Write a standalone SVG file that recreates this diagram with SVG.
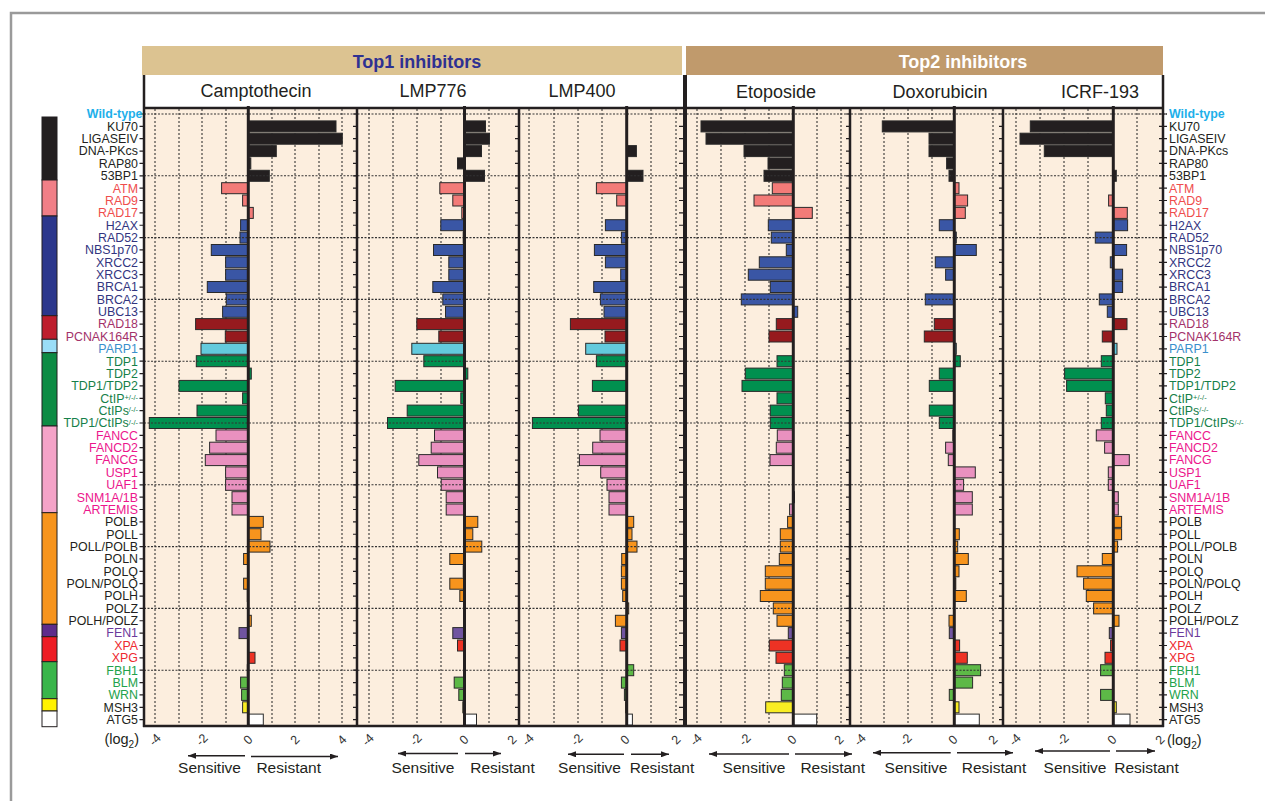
<svg xmlns="http://www.w3.org/2000/svg" width="1265" height="801" viewBox="0 0 1265 801">
<defs>
<style>
text{font-family:"Liberation Sans",Arial,sans-serif;fill:#231F20}
.lab{font-size:12.4px}
.le-l{text-anchor:end}
.sup{font-size:7.5px}
.wt{fill:#1EB0EA;font-weight:bold}
.lk{fill:#231F20}.ls{fill:#EF4D4D}.lb{fill:#32357F}.lr{fill:#A3326A}.lc{fill:#3A8FCC}.lg{fill:#16804A}.lp{fill:#EC168C}.lv{fill:#6C3A9C}.le{fill:#EE2A30}.ll{fill:#22A24B}
.bars rect{stroke:#2a2a2a;stroke-width:1}
.k{fill:#231F20}.s{fill:#F37B78}.b{fill:#3A56A5}.r{fill:#961A1E}.c{fill:#63CADD}.g{fill:#00904F}.p{fill:#E991BF}.o{fill:#F7941D}.v{fill:#7054A0}.e{fill:#EE3224}.l{fill:#5DB947}.y{fill:#F9ED23}.w{fill:#FFFFFF}
.bg{fill:#FCEEDE}
.vg{stroke:#222;stroke-width:1;stroke-dasharray:2 2;fill:none}
.hg{stroke:#333;stroke-width:1.1;stroke-dasharray:2 1.5;fill:none}
.frame{stroke:#231F20;stroke-width:2.5;fill:none}
.zero{stroke:#231F20;stroke-width:3}
.tick{stroke:#231F20;stroke-width:4;stroke-dasharray:1.2 11.16;fill:none}
.tl{font-size:12.5px;fill:#333;text-anchor:middle}
.arr{stroke:#231F20;stroke-width:1.5;fill:none}
.sr{font-size:15.5px;text-anchor:middle}
.drug{font-size:18px;text-anchor:middle}
.title{font-size:18px;font-weight:bold;text-anchor:middle}
</style>
<marker id="ah" viewBox="0 0 8 6" refX="8" refY="3" markerWidth="8" markerHeight="6" markerUnits="userSpaceOnUse" orient="auto"><path d="M0,0L8,3L0,6z" fill="#231F20"/></marker>
</defs>
<rect width="1265" height="801" fill="#fff"/>
<path d="M11 801V13H1265" stroke="#9a9a9a" stroke-width="2.5" fill="none"/>

<g id="header">
<rect x="142" y="46" width="540" height="29" fill="#DCC391"/>
<rect x="686" y="46" width="477" height="29" fill="#C09A6C"/>
<text class="title" x="417" y="68" style="fill:#2E3192">Top1 inhibitors</text>
<text class="title" x="963" y="68" style="fill:#fff">Top2 inhibitors</text>
<text class="drug" x="256" y="97">Camptothecin</text>
<text class="drug" x="433" y="97">LMP776</text>
<text class="drug" x="582" y="97">LMP400</text>
<text class="drug" x="776" y="98">Etoposide</text>
<text class="drug" x="940" y="98">Doxorubicin</text>
<text class="drug" x="1100" y="98">ICRF-193</text>
</g>

<g id="colorbar" stroke="#231F20" stroke-width="1">
<rect x="42" y="117" width="15" height="63" fill="#231F20"/>
<rect x="42" y="180" width="15" height="36" fill="#F07F87"/>
<rect x="42" y="216" width="15" height="99.7" fill="#2C378C"/>
<rect x="42" y="315.7" width="15" height="23.6" fill="#BE1E2D"/>
<rect x="42" y="339.3" width="15" height="13.4" fill="#9ADDF7"/>
<rect x="42" y="352.7" width="15" height="73.3" fill="#0D8B44"/>
<rect x="42" y="426" width="15" height="86.7" fill="#F4A3C8"/>
<rect x="42" y="512.7" width="15" height="111.6" fill="#F7941D"/>
<rect x="42" y="624.3" width="15" height="12.4" fill="#5E2C8B"/>
<rect x="42" y="636.7" width="15" height="25" fill="#ED1C24"/>
<rect x="42" y="661.7" width="15" height="37" fill="#39B54A"/>
<rect x="42" y="698.7" width="15" height="12.3" fill="#FFF200"/>
<rect x="42" y="711" width="15" height="15.7" fill="#FFFFFF"/>
</g>

<g id="panel-backgrounds">
<rect class="bg" x="144" y="108" width="1019" height="618"/>
</g>

<g id="gridlines">
<path class="vg" d="M155 109V725M179 109V725M202 109V725M226 109V725M272 109V725M295 109V725M319 109V725M342 109V725M369 109V725M393 109V725M417 109V725M441 109V725M489 109V725M529 109V725M554 109V725M578 109V725M602 109V725M651 109V725M676 109V725M697 109V725M721 109V725M745 109V725M769 109V725M817 109V725M841 109V725M861 109V725M884 109V725M908 109V725M932 109V725M993 109V725M1016 109V725M1040 109V725M1064 109V725M1088 109V725M1137 109V725"/>
</g>

<g id="bars-camptothecin" class="bars">
<rect class="k" x="248.3" y="120.9" width="87.7" height="11"/>
<rect class="k" x="248.3" y="133.2" width="94" height="11"/>
<rect class="k" x="248.3" y="145.6" width="28" height="11"/>
<rect class="k" x="248.3" y="157.9" width="2.5" height="11"/>
<rect class="k" x="248.3" y="170.3" width="21" height="11"/>
<rect class="s" x="221.6" y="182.7" width="26.7" height="11"/>
<rect class="s" x="242.6" y="195" width="5.7" height="11"/>
<rect class="s" x="248.3" y="207.4" width="5" height="11"/>
<rect class="b" x="240.6" y="219.7" width="7.7" height="11"/>
<rect class="b" x="240" y="232.1" width="8.3" height="11"/>
<rect class="b" x="211.3" y="244.5" width="37" height="11"/>
<rect class="b" x="225.6" y="256.8" width="22.7" height="11"/>
<rect class="b" x="225.6" y="269.2" width="22.7" height="11"/>
<rect class="b" x="207.3" y="281.5" width="41" height="11"/>
<rect class="b" x="226.3" y="293.9" width="22" height="11"/>
<rect class="b" x="222.6" y="306.3" width="25.7" height="11"/>
<rect class="r" x="195.6" y="318.6" width="52.7" height="11"/>
<rect class="r" x="225.3" y="331" width="23" height="11"/>
<rect class="c" x="201" y="343.3" width="47.3" height="11"/>
<rect class="g" x="196.3" y="355.7" width="52" height="11"/>
<rect class="g" x="248.3" y="368.1" width="3" height="11"/>
<rect class="g" x="179" y="380.4" width="69.3" height="11"/>
<rect class="g" x="242.6" y="392.8" width="5.7" height="11"/>
<rect class="g" x="197" y="405.1" width="51.3" height="11"/>
<rect class="g" x="149.3" y="417.5" width="99" height="11"/>
<rect class="p" x="216" y="429.9" width="32.3" height="11"/>
<rect class="p" x="209.6" y="442.2" width="38.7" height="11"/>
<rect class="p" x="205.3" y="454.6" width="43" height="11"/>
<rect class="p" x="225.6" y="466.9" width="22.7" height="11"/>
<rect class="p" x="225.6" y="479.3" width="22.7" height="11"/>
<rect class="p" x="232" y="491.7" width="16.3" height="11"/>
<rect class="p" x="232" y="504" width="16.3" height="11"/>
<rect class="o" x="248.3" y="516.4" width="15" height="11"/>
<rect class="o" x="248.3" y="528.7" width="12.7" height="11"/>
<rect class="o" x="248.3" y="541.1" width="21.7" height="11"/>
<rect class="o" x="243.6" y="553.5" width="4.7" height="11"/>
<rect class="o" x="243.6" y="578.2" width="4.7" height="11"/>
<rect class="o" x="247.3" y="590.5" width="1" height="11"/>
<rect class="o" x="248.3" y="615.3" width="3" height="11"/>
<rect class="v" x="239" y="627.6" width="9.3" height="11"/>
<rect class="e" x="248.3" y="652.3" width="6.7" height="11"/>
<rect class="l" x="247.3" y="664.7" width="1" height="11"/>
<rect class="l" x="240.6" y="677.1" width="7.7" height="11"/>
<rect class="l" x="241.6" y="689.4" width="6.7" height="11"/>
<rect class="y" x="242.6" y="701.8" width="5.7" height="11"/>
<rect class="w" x="248.3" y="714.1" width="15" height="11"/>
</g>

<g id="bars-lmp776" class="bars">
<rect class="k" x="464.5" y="120.9" width="21" height="11"/>
<rect class="k" x="464.5" y="133.2" width="25" height="11"/>
<rect class="k" x="464.5" y="145.6" width="17" height="11"/>
<rect class="k" x="457.5" y="157.9" width="7" height="11"/>
<rect class="k" x="464.5" y="170.3" width="20" height="11"/>
<rect class="s" x="439.8" y="182.7" width="24.7" height="11"/>
<rect class="s" x="452.8" y="195" width="11.7" height="11"/>
<rect class="s" x="461.8" y="207.4" width="2.7" height="11"/>
<rect class="b" x="440.8" y="219.7" width="23.7" height="11"/>
<rect class="b" x="463.2" y="232.1" width="1.3" height="11"/>
<rect class="b" x="433.5" y="244.5" width="31" height="11"/>
<rect class="b" x="448.8" y="256.8" width="15.7" height="11"/>
<rect class="b" x="448.8" y="269.2" width="15.7" height="11"/>
<rect class="b" x="432.8" y="281.5" width="31.7" height="11"/>
<rect class="b" x="442.8" y="293.9" width="21.7" height="11"/>
<rect class="b" x="445.5" y="306.3" width="19" height="11"/>
<rect class="r" x="416.8" y="318.6" width="47.7" height="11"/>
<rect class="r" x="438.8" y="331" width="25.7" height="11"/>
<rect class="c" x="411.8" y="343.3" width="52.7" height="11"/>
<rect class="g" x="423.8" y="355.7" width="40.7" height="11"/>
<rect class="g" x="464.5" y="368.1" width="3.3" height="11"/>
<rect class="g" x="395.2" y="380.4" width="69.3" height="11"/>
<rect class="g" x="460.8" y="392.8" width="3.7" height="11"/>
<rect class="g" x="407.2" y="405.1" width="57.3" height="11"/>
<rect class="g" x="387.5" y="417.5" width="77" height="11"/>
<rect class="p" x="434.5" y="429.9" width="30" height="11"/>
<rect class="p" x="431.2" y="442.2" width="33.3" height="11"/>
<rect class="p" x="418.8" y="454.6" width="45.7" height="11"/>
<rect class="p" x="437.5" y="466.9" width="27" height="11"/>
<rect class="p" x="441.2" y="479.3" width="23.3" height="11"/>
<rect class="p" x="446.2" y="491.7" width="18.3" height="11"/>
<rect class="p" x="446.2" y="504" width="18.3" height="11"/>
<rect class="o" x="464.5" y="516.4" width="13.3" height="11"/>
<rect class="o" x="464.5" y="528.7" width="8.3" height="11"/>
<rect class="o" x="464.5" y="541.1" width="17.3" height="11"/>
<rect class="o" x="449.8" y="553.5" width="14.7" height="11"/>
<rect class="o" x="463.2" y="565.8" width="1.3" height="11"/>
<rect class="o" x="449.8" y="578.2" width="14.7" height="11"/>
<rect class="o" x="459.8" y="590.5" width="4.7" height="11"/>
<rect class="v" x="452.8" y="627.6" width="11.7" height="11"/>
<rect class="e" x="457.5" y="640" width="7" height="11"/>
<rect class="l" x="463.8" y="664.7" width="0.7" height="11"/>
<rect class="l" x="454.2" y="677.1" width="10.3" height="11"/>
<rect class="l" x="458.8" y="689.4" width="5.7" height="11"/>
<rect class="y" x="462.8" y="701.8" width="1.7" height="11"/>
<rect class="w" x="464.5" y="714.1" width="12" height="11"/>
</g>

<g id="bars-lmp400" class="bars">
<rect class="k" x="626.7" y="145.6" width="9.7" height="11"/>
<rect class="k" x="626.7" y="170.3" width="16.3" height="11"/>
<rect class="s" x="596.4" y="182.7" width="30.3" height="11"/>
<rect class="s" x="616.7" y="195" width="10" height="11"/>
<rect class="b" x="605.4" y="219.7" width="21.3" height="11"/>
<rect class="b" x="621.4" y="232.1" width="5.3" height="11"/>
<rect class="b" x="594.4" y="244.5" width="32.3" height="11"/>
<rect class="b" x="605.4" y="256.8" width="21.3" height="11"/>
<rect class="b" x="620.7" y="269.2" width="6" height="11"/>
<rect class="b" x="593.7" y="281.5" width="33" height="11"/>
<rect class="b" x="600.4" y="293.9" width="26.3" height="11"/>
<rect class="b" x="604" y="306.3" width="22.7" height="11"/>
<rect class="r" x="570.4" y="318.6" width="56.3" height="11"/>
<rect class="r" x="605" y="331" width="21.7" height="11"/>
<rect class="c" x="585.7" y="343.3" width="41" height="11"/>
<rect class="g" x="596.4" y="355.7" width="30.3" height="11"/>
<rect class="g" x="592.4" y="380.4" width="34.3" height="11"/>
<rect class="g" x="578.4" y="405.1" width="48.3" height="11"/>
<rect class="g" x="532.4" y="417.5" width="94.3" height="11"/>
<rect class="p" x="600" y="429.9" width="26.7" height="11"/>
<rect class="p" x="592.7" y="442.2" width="34" height="11"/>
<rect class="p" x="579.4" y="454.6" width="47.3" height="11"/>
<rect class="p" x="600.7" y="466.9" width="26" height="11"/>
<rect class="p" x="607" y="479.3" width="19.7" height="11"/>
<rect class="p" x="609" y="491.7" width="17.7" height="11"/>
<rect class="p" x="609" y="504" width="17.7" height="11"/>
<rect class="o" x="626.7" y="516.4" width="7" height="11"/>
<rect class="o" x="626.7" y="528.7" width="5.3" height="11"/>
<rect class="o" x="626.7" y="541.1" width="10.3" height="11"/>
<rect class="o" x="621.7" y="553.5" width="5" height="11"/>
<rect class="o" x="621.4" y="565.8" width="5.3" height="11"/>
<rect class="o" x="621.4" y="578.2" width="5.3" height="11"/>
<rect class="o" x="622.7" y="590.5" width="4" height="11"/>
<rect class="o" x="626.7" y="602.9" width="2" height="11"/>
<rect class="o" x="615.4" y="615.3" width="11.3" height="11"/>
<rect class="v" x="621.4" y="627.6" width="5.3" height="11"/>
<rect class="e" x="620" y="640" width="6.7" height="11"/>
<rect class="l" x="626.7" y="664.7" width="7" height="11"/>
<rect class="l" x="621.4" y="677.1" width="5.3" height="11"/>
<rect class="l" x="624.4" y="689.4" width="2.3" height="11"/>
<rect class="y" x="625.7" y="701.8" width="1" height="11"/>
<rect class="w" x="626.7" y="714.1" width="5.7" height="11"/>
</g>

<g id="bars-etoposide" class="bars">
<rect class="k" x="701" y="120.9" width="92.3" height="11"/>
<rect class="k" x="706" y="133.2" width="87.3" height="11"/>
<rect class="k" x="744" y="145.6" width="49.3" height="11"/>
<rect class="k" x="768" y="157.9" width="25.3" height="11"/>
<rect class="k" x="764" y="170.3" width="29.3" height="11"/>
<rect class="s" x="772.3" y="182.7" width="21" height="11"/>
<rect class="s" x="754" y="195" width="39.3" height="11"/>
<rect class="s" x="793.3" y="207.4" width="19" height="11"/>
<rect class="b" x="768.3" y="219.7" width="25" height="11"/>
<rect class="b" x="771.3" y="232.1" width="22" height="11"/>
<rect class="b" x="786.3" y="244.5" width="7" height="11"/>
<rect class="b" x="759.3" y="256.8" width="34" height="11"/>
<rect class="b" x="748.3" y="269.2" width="45" height="11"/>
<rect class="b" x="770.3" y="281.5" width="23" height="11"/>
<rect class="b" x="741.3" y="293.9" width="52" height="11"/>
<rect class="b" x="793.3" y="306.3" width="4.4" height="11"/>
<rect class="r" x="776.3" y="318.6" width="17" height="11"/>
<rect class="r" x="769" y="331" width="24.3" height="11"/>
<rect class="g" x="777" y="355.7" width="16.3" height="11"/>
<rect class="g" x="745.3" y="368.1" width="48" height="11"/>
<rect class="g" x="742" y="380.4" width="51.3" height="11"/>
<rect class="g" x="777" y="392.8" width="16.3" height="11"/>
<rect class="g" x="770.3" y="405.1" width="23" height="11"/>
<rect class="g" x="770.3" y="417.5" width="23" height="11"/>
<rect class="p" x="777.3" y="429.9" width="16" height="11"/>
<rect class="p" x="776.3" y="442.2" width="17" height="11"/>
<rect class="p" x="770" y="454.6" width="23.3" height="11"/>
<rect class="p" x="793.3" y="491.7" width="1.2" height="11"/>
<rect class="p" x="789.6" y="504" width="3.7" height="11"/>
<rect class="o" x="787.6" y="516.4" width="5.7" height="11"/>
<rect class="o" x="780.3" y="528.7" width="13" height="11"/>
<rect class="o" x="780.3" y="541.1" width="13" height="11"/>
<rect class="o" x="779.3" y="553.5" width="14" height="11"/>
<rect class="o" x="765.3" y="565.8" width="28" height="11"/>
<rect class="o" x="765.3" y="578.2" width="28" height="11"/>
<rect class="o" x="760.3" y="590.5" width="33" height="11"/>
<rect class="o" x="773.3" y="602.9" width="20" height="11"/>
<rect class="o" x="777" y="615.3" width="16.3" height="11"/>
<rect class="v" x="788.3" y="627.6" width="5" height="11"/>
<rect class="e" x="769.3" y="640" width="24" height="11"/>
<rect class="e" x="776" y="652.3" width="17.3" height="11"/>
<rect class="l" x="784.3" y="664.7" width="9" height="11"/>
<rect class="l" x="782.3" y="677.1" width="11" height="11"/>
<rect class="l" x="781.3" y="689.4" width="12" height="11"/>
<rect class="y" x="765.7" y="701.8" width="27.6" height="11"/>
<rect class="w" x="793.3" y="714.1" width="23.4" height="11"/>
</g>

<g id="bars-doxorubicin" class="bars">
<rect class="k" x="882.3" y="120.9" width="72" height="11"/>
<rect class="k" x="929" y="133.2" width="25.3" height="11"/>
<rect class="k" x="929" y="145.6" width="25.3" height="11"/>
<rect class="k" x="946.6" y="157.9" width="7.7" height="11"/>
<rect class="k" x="949" y="170.3" width="5.3" height="11"/>
<rect class="s" x="954.3" y="182.7" width="4.7" height="11"/>
<rect class="s" x="954.3" y="195" width="13.3" height="11"/>
<rect class="s" x="954.3" y="207.4" width="11" height="11"/>
<rect class="b" x="939.3" y="219.7" width="15" height="11"/>
<rect class="b" x="954.3" y="232.1" width="2" height="11"/>
<rect class="b" x="954.3" y="244.5" width="22" height="11"/>
<rect class="b" x="935.3" y="256.8" width="19" height="11"/>
<rect class="b" x="945.6" y="269.2" width="8.7" height="11"/>
<rect class="b" x="925.3" y="293.9" width="29" height="11"/>
<rect class="r" x="934.3" y="318.6" width="20" height="11"/>
<rect class="r" x="924.3" y="331" width="30" height="11"/>
<rect class="c" x="954.3" y="343.3" width="2" height="11"/>
<rect class="g" x="954.3" y="355.7" width="6" height="11"/>
<rect class="g" x="939.3" y="368.1" width="15" height="11"/>
<rect class="g" x="929.3" y="380.4" width="25" height="11"/>
<rect class="g" x="929.3" y="405.1" width="25" height="11"/>
<rect class="g" x="939.3" y="417.5" width="15" height="11"/>
<rect class="p" x="952.8" y="429.9" width="1.5" height="11"/>
<rect class="p" x="945.6" y="442.2" width="8.7" height="11"/>
<rect class="p" x="948.3" y="454.6" width="6" height="11"/>
<rect class="p" x="954.3" y="466.9" width="21" height="11"/>
<rect class="p" x="954.3" y="479.3" width="9.3" height="11"/>
<rect class="p" x="954.3" y="491.7" width="18" height="11"/>
<rect class="p" x="954.3" y="504" width="18" height="11"/>
<rect class="o" x="954.3" y="528.7" width="5" height="11"/>
<rect class="o" x="954.3" y="541.1" width="3.4" height="11"/>
<rect class="o" x="954.3" y="553.5" width="14" height="11"/>
<rect class="o" x="954.3" y="565.8" width="4.7" height="11"/>
<rect class="o" x="954.3" y="578.2" width="1.5" height="11"/>
<rect class="o" x="954.3" y="590.5" width="12" height="11"/>
<rect class="o" x="949" y="615.3" width="5.3" height="11"/>
<rect class="v" x="949.3" y="627.6" width="5" height="11"/>
<rect class="e" x="954.3" y="640" width="5.3" height="11"/>
<rect class="e" x="954.3" y="652.3" width="13" height="11"/>
<rect class="l" x="954.3" y="664.7" width="26.3" height="11"/>
<rect class="l" x="954.3" y="677.1" width="18.3" height="11"/>
<rect class="l" x="949.3" y="689.4" width="5" height="11"/>
<rect class="y" x="954.3" y="701.8" width="4.7" height="11"/>
<rect class="w" x="954.3" y="714.1" width="25" height="11"/>
</g>

<g id="bars-icrf193" class="bars">
<rect class="k" x="1030.3" y="120.9" width="83" height="11"/>
<rect class="k" x="1020" y="133.2" width="93.3" height="11"/>
<rect class="k" x="1044.3" y="145.6" width="69" height="11"/>
<rect class="k" x="1113.3" y="170.3" width="3" height="11"/>
<rect class="s" x="1108.6" y="195" width="4.7" height="11"/>
<rect class="s" x="1113.3" y="207.4" width="14" height="11"/>
<rect class="b" x="1113.3" y="219.7" width="14.3" height="11"/>
<rect class="b" x="1095.3" y="232.1" width="18" height="11"/>
<rect class="b" x="1113.3" y="244.5" width="13.3" height="11"/>
<rect class="b" x="1110.3" y="256.8" width="3" height="11"/>
<rect class="b" x="1113.3" y="269.2" width="9.3" height="11"/>
<rect class="b" x="1113.3" y="281.5" width="9.3" height="11"/>
<rect class="b" x="1099.3" y="293.9" width="14" height="11"/>
<rect class="b" x="1107.3" y="306.3" width="6" height="11"/>
<rect class="r" x="1113.3" y="318.6" width="13.7" height="11"/>
<rect class="r" x="1102.3" y="331" width="11" height="11"/>
<rect class="c" x="1113.3" y="343.3" width="3.7" height="11"/>
<rect class="g" x="1101.3" y="355.7" width="12" height="11"/>
<rect class="g" x="1064.6" y="368.1" width="48.7" height="11"/>
<rect class="g" x="1066.6" y="380.4" width="46.7" height="11"/>
<rect class="g" x="1105.3" y="392.8" width="8" height="11"/>
<rect class="g" x="1106.3" y="405.1" width="7" height="11"/>
<rect class="g" x="1101.3" y="417.5" width="12" height="11"/>
<rect class="p" x="1096.3" y="429.9" width="17" height="11"/>
<rect class="p" x="1104.6" y="442.2" width="8.7" height="11"/>
<rect class="p" x="1113.3" y="454.6" width="16" height="11"/>
<rect class="p" x="1108.3" y="466.9" width="5" height="11"/>
<rect class="p" x="1108.3" y="479.3" width="5" height="11"/>
<rect class="p" x="1113.3" y="491.7" width="5" height="11"/>
<rect class="p" x="1113.3" y="504" width="5" height="11"/>
<rect class="o" x="1113.3" y="516.4" width="8.3" height="11"/>
<rect class="o" x="1113.3" y="528.7" width="8.3" height="11"/>
<rect class="o" x="1113.3" y="541.1" width="4.3" height="11"/>
<rect class="o" x="1102.3" y="553.5" width="11" height="11"/>
<rect class="o" x="1077" y="565.8" width="36.3" height="11"/>
<rect class="o" x="1083.6" y="578.2" width="29.7" height="11"/>
<rect class="o" x="1086.3" y="590.5" width="27" height="11"/>
<rect class="o" x="1093.6" y="602.9" width="19.7" height="11"/>
<rect class="o" x="1113.3" y="615.3" width="5.7" height="11"/>
<rect class="v" x="1109.3" y="627.6" width="4" height="11"/>
<rect class="e" x="1110.6" y="640" width="2.7" height="11"/>
<rect class="e" x="1105" y="652.3" width="8.3" height="11"/>
<rect class="l" x="1100.6" y="664.7" width="12.7" height="11"/>
<rect class="l" x="1100.6" y="689.4" width="12.7" height="11"/>
<rect class="y" x="1113.3" y="701.8" width="3" height="11"/>
<rect class="w" x="1113.3" y="714.1" width="16.7" height="11"/>
</g>

<g id="row-gridlines">
<path class="hg" d="M144 114H1167M144 175.8H1167M144 237.6H1167M144 299.4H1167M144 361.2H1167M144 423H1167M144 484.8H1167M144 546.6H1167M144 608.4H1167M144 670.2H1167"/>
</g>

<g id="zero-lines">
<path class="zero" d="M248.3 106V727M464.5 106V727M626.7 106V727M793.3 106V727M954.3 106V727M1113.3 106V727"/>
</g>

<g id="frames">
<path class="frame" d="M144 75V727M357 108V727M519 108V727M850 108V727M1003 108V727M1163 75V727M143 108H1164M143 726H1164"/>
<path d="M685 75V727" stroke="#231F20" stroke-width="4" fill="none"/>
<path class="tick" d="M141.5 113.4V721M355 113.4V721M517 113.4V721M681 113.4V721M848 113.4V721M1001 113.4V721M1161 113.4V721M1165 113.4V721"/>
</g>

<g id="labels-left" class="lab">
<text class="wt le-l" x="142.5" y="118.3">Wild-type</text>
<text class="lk le-l" x="138" y="130.7">KU70</text>
<text class="lk le-l" x="138" y="143">LIGASEIV</text>
<text class="lk le-l" x="138" y="155.4">DNA-PKcs</text>
<text class="lk le-l" x="138" y="167.7">RAP80</text>
<text class="lk le-l" x="138" y="180.1">53BP1</text>
<text class="ls le-l" x="138" y="192.5">ATM</text>
<text class="ls le-l" x="138" y="204.8">RAD9</text>
<text class="ls le-l" x="138" y="217.2">RAD17</text>
<text class="lb le-l" x="138" y="229.5">H2AX</text>
<text class="lb le-l" x="138" y="241.9">RAD52</text>
<text class="lb le-l" x="138" y="254.3">NBS1p70</text>
<text class="lb le-l" x="138" y="266.6">XRCC2</text>
<text class="lb le-l" x="138" y="279">XRCC3</text>
<text class="lb le-l" x="138" y="291.3">BRCA1</text>
<text class="lb le-l" x="138" y="303.7">BRCA2</text>
<text class="lb le-l" x="138" y="316.1">UBC13</text>
<text class="lr le-l" x="138" y="328.4">RAD18</text>
<text class="lr le-l" x="138" y="340.8">PCNAK164R</text>
<text class="lc le-l" x="138" y="353.1">PARP1</text>
<text class="lg le-l" x="138" y="365.5">TDP1</text>
<text class="lg le-l" x="138" y="377.9">TDP2</text>
<text class="lg le-l" x="138" y="390.2">TDP1/TDP2</text>
<text class="lg le-l" x="138" y="402.6">CtIP<tspan class="sup" dy="-2.6">+/-/-</tspan></text>
<text class="lg le-l" x="138" y="414.9">CtIPs<tspan class="sup" dy="-2.6">/-/-</tspan></text>
<text class="lg le-l" x="138" y="427.3">TDP1/CtIPs<tspan class="sup" dy="-2.6">/-/-</tspan></text>
<text class="lp le-l" x="138" y="439.7">FANCC</text>
<text class="lp le-l" x="138" y="452">FANCD2</text>
<text class="lp le-l" x="138" y="464.4">FANCG</text>
<text class="lp le-l" x="138" y="476.7">USP1</text>
<text class="lp le-l" x="138" y="489.1">UAF1</text>
<text class="lp le-l" x="138" y="501.5">SNM1A/1B</text>
<text class="lp le-l" x="138" y="513.8">ARTEMIS</text>
<text class="lk le-l" x="138" y="526.2">POLB</text>
<text class="lk le-l" x="138" y="538.5">POLL</text>
<text class="lk le-l" x="138" y="550.9">POLL/POLB</text>
<text class="lk le-l" x="138" y="563.3">POLN</text>
<text class="lk le-l" x="138" y="575.6">POLQ</text>
<text class="lk le-l" x="138" y="588">POLN/POLQ</text>
<text class="lk le-l" x="138" y="600.3">POLH</text>
<text class="lk le-l" x="138" y="612.7">POLZ</text>
<text class="lk le-l" x="138" y="625.1">POLH/POLZ</text>
<text class="lv le-l" x="138" y="637.4">FEN1</text>
<text class="le le-l" x="138" y="649.8">XPA</text>
<text class="le le-l" x="138" y="662.1">XPG</text>
<text class="ll le-l" x="138" y="674.5">FBH1</text>
<text class="ll le-l" x="138" y="686.9">BLM</text>
<text class="ll le-l" x="138" y="699.2">WRN</text>
<text class="lk le-l" x="138" y="711.6">MSH3</text>
<text class="lk le-l" x="138" y="723.9">ATG5</text>
</g>

<g id="labels-right" class="lab">
<text class="wt" x="1169" y="118.3">Wild-type</text>
<text class="lk" x="1169" y="130.7">KU70</text>
<text class="lk" x="1169" y="143">LIGASEIV</text>
<text class="lk" x="1169" y="155.4">DNA-PKcs</text>
<text class="lk" x="1169" y="167.7">RAP80</text>
<text class="lk" x="1169" y="180.1">53BP1</text>
<text class="ls" x="1169" y="192.5">ATM</text>
<text class="ls" x="1169" y="204.8">RAD9</text>
<text class="ls" x="1169" y="217.2">RAD17</text>
<text class="lb" x="1169" y="229.5">H2AX</text>
<text class="lb" x="1169" y="241.9">RAD52</text>
<text class="lb" x="1169" y="254.3">NBS1p70</text>
<text class="lb" x="1169" y="266.6">XRCC2</text>
<text class="lb" x="1169" y="279">XRCC3</text>
<text class="lb" x="1169" y="291.3">BRCA1</text>
<text class="lb" x="1169" y="303.7">BRCA2</text>
<text class="lb" x="1169" y="316.1">UBC13</text>
<text class="lr" x="1169" y="328.4">RAD18</text>
<text class="lr" x="1169" y="340.8">PCNAK164R</text>
<text class="lc" x="1169" y="353.1">PARP1</text>
<text class="lg" x="1169" y="365.5">TDP1</text>
<text class="lg" x="1169" y="377.9">TDP2</text>
<text class="lg" x="1169" y="390.2">TDP1/TDP2</text>
<text class="lg" x="1169" y="402.6">CtIP<tspan class="sup" dy="-2.6">+/-/-</tspan></text>
<text class="lg" x="1169" y="414.9">CtIPs<tspan class="sup" dy="-2.6">/-/-</tspan></text>
<text class="lg" x="1169" y="427.3">TDP1/CtIPs<tspan class="sup" dy="-2.6">/-/-</tspan></text>
<text class="lp" x="1169" y="439.7">FANCC</text>
<text class="lp" x="1169" y="452">FANCD2</text>
<text class="lp" x="1169" y="464.4">FANCG</text>
<text class="lp" x="1169" y="476.7">USP1</text>
<text class="lp" x="1169" y="489.1">UAF1</text>
<text class="lp" x="1169" y="501.5">SNM1A/1B</text>
<text class="lp" x="1169" y="513.8">ARTEMIS</text>
<text class="lk" x="1169" y="526.2">POLB</text>
<text class="lk" x="1169" y="538.5">POLL</text>
<text class="lk" x="1169" y="550.9">POLL/POLB</text>
<text class="lk" x="1169" y="563.3">POLN</text>
<text class="lk" x="1169" y="575.6">POLQ</text>
<text class="lk" x="1169" y="588">POLN/POLQ</text>
<text class="lk" x="1169" y="600.3">POLH</text>
<text class="lk" x="1169" y="612.7">POLZ</text>
<text class="lk" x="1169" y="625.1">POLH/POLZ</text>
<text class="lv" x="1169" y="637.4">FEN1</text>
<text class="le" x="1169" y="649.8">XPA</text>
<text class="le" x="1169" y="662.1">XPG</text>
<text class="ll" x="1169" y="674.5">FBH1</text>
<text class="ll" x="1169" y="686.9">BLM</text>
<text class="ll" x="1169" y="699.2">WRN</text>
<text class="lk" x="1169" y="711.6">MSH3</text>
<text class="lk" x="1169" y="723.9">ATG5</text>
</g>

<g id="axis-labels">
<text class="tl" transform="translate(155,740) rotate(-45)" y="4">-4</text>
<text class="tl" transform="translate(202,740) rotate(-45)" y="4">-2</text>
<text class="tl" transform="translate(248,740) rotate(-45)" y="4">0</text>
<text class="tl" transform="translate(295,740) rotate(-45)" y="4">2</text>
<text class="tl" transform="translate(342,740) rotate(-45)" y="4">4</text>
<text class="tl" transform="translate(368,740) rotate(-45)" y="4">-4</text>
<text class="tl" transform="translate(416,740) rotate(-45)" y="4">-2</text>
<text class="tl" transform="translate(464,740) rotate(-45)" y="4">0</text>
<text class="tl" transform="translate(512,740) rotate(-45)" y="4">2</text>
<text class="tl" transform="translate(528,740) rotate(-45)" y="4">-4</text>
<text class="tl" transform="translate(577,740) rotate(-45)" y="4">-2</text>
<text class="tl" transform="translate(625,740) rotate(-45)" y="4">0</text>
<text class="tl" transform="translate(676,740) rotate(-45)" y="4">2</text>
<text class="tl" transform="translate(696,740) rotate(-45)" y="4">-4</text>
<text class="tl" transform="translate(745,740) rotate(-45)" y="4">-2</text>
<text class="tl" transform="translate(792,740) rotate(-45)" y="4">0</text>
<text class="tl" transform="translate(839,740) rotate(-45)" y="4">2</text>
<text class="tl" transform="translate(860,740) rotate(-45)" y="4">-4</text>
<text class="tl" transform="translate(906,740) rotate(-45)" y="4">-2</text>
<text class="tl" transform="translate(953,740) rotate(-45)" y="4">0</text>
<text class="tl" transform="translate(993,740) rotate(-45)" y="4">2</text>
<text class="tl" transform="translate(1015,740) rotate(-45)" y="4">-4</text>
<text class="tl" transform="translate(1063,740) rotate(-45)" y="4">-2</text>
<text class="tl" transform="translate(1112,740) rotate(-45)" y="4">0</text>
<text class="tl" transform="translate(1160,740) rotate(-45)" y="4">2</text>
<text x="139" y="744" font-size="14.5" text-anchor="end">(log<tspan dy="4" font-size="10">2</tspan><tspan dy="-4">)</tspan></text>
<text x="1167" y="745" font-size="14.5">(log<tspan dy="4" font-size="10">2</tspan><tspan dy="-4">)</tspan></text>
</g>

<g id="connectors">
<path class="arr" marker-end="url(#ah)" d="M245 755.7H188"/>
<path class="arr" marker-end="url(#ah)" d="M251 756.5H338"/>
<path class="arr" marker-end="url(#ah)" d="M458 753.5H398"/>
<path class="arr" marker-end="url(#ah)" d="M465 753.5H501"/>
<path class="arr" marker-end="url(#ah)" d="M624 754.3H568"/>
<path class="arr" marker-end="url(#ah)" d="M631 754.3H669"/>
<path class="arr" marker-end="url(#ah)" d="M789 754H709"/>
<path class="arr" marker-end="url(#ah)" d="M795 754H852"/>
<path class="arr" marker-end="url(#ah)" d="M950.7 752.7H873"/>
<path class="arr" marker-end="url(#ah)" d="M957 752.7H1013"/>
<path class="arr" marker-end="url(#ah)" d="M1110 751H1035"/>
<path class="arr" marker-end="url(#ah)" d="M1116 751H1155"/>
</g>

<g id="direction-labels">
<text class="sr" x="209.5" y="773">Sensitive</text>
<text class="sr" x="288.7" y="773">Resistant</text>
<text class="sr" x="423" y="773">Sensitive</text>
<text class="sr" x="502.5" y="773">Resistant</text>
<text class="sr" x="589.5" y="773">Sensitive</text>
<text class="sr" x="662" y="773">Resistant</text>
<text class="sr" x="754" y="773">Sensitive</text>
<text class="sr" x="832.7" y="773">Resistant</text>
<text class="sr" x="916" y="773">Sensitive</text>
<text class="sr" x="994" y="773">Resistant</text>
<text class="sr" x="1075" y="773">Sensitive</text>
<text class="sr" x="1146.5" y="773">Resistant</text>
</g>
</svg>
